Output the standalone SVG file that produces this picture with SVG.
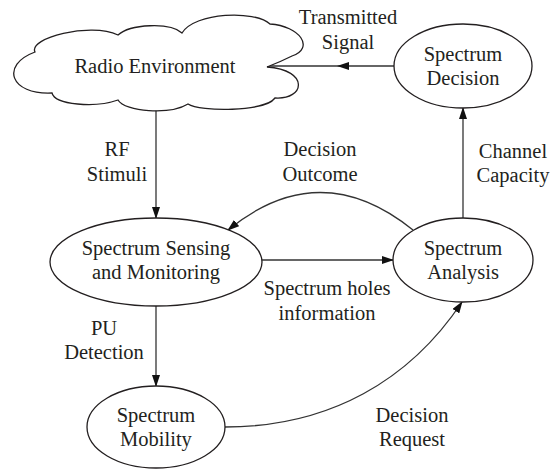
<svg xmlns="http://www.w3.org/2000/svg" width="551" height="470" viewBox="0 0 551 470" font-family="Liberation Serif, Times New Roman, DejaVu Serif, serif">
<style>
.shape{fill:#fff;stroke:#231f20;stroke-width:1.3}
.edge{fill:none;stroke:#333;stroke-width:1.3}
.t{font-family:'Liberation Serif','Times New Roman','DejaVu Serif',serif;font-size:20.5px;fill:#231f20;text-anchor:middle}
</style>
<defs>
<marker id="ah" markerWidth="12" markerHeight="8" refX="11" refY="4" orient="auto" markerUnits="userSpaceOnUse">
<path d="M0,0 L12,4 L0,8 Z" fill="#111"/>
</marker>
</defs>
<rect width="551" height="470" fill="#fff"/>
<g id="connectors">
<line class="edge" x1="394" y1="66" x2="267" y2="66"/>
<path d="M337,66 L349,62 L349,70 Z" fill="#111"/>
<line class="edge" x1="156" y1="106" x2="156" y2="218" marker-end="url(#ah)"/>
<line class="edge" x1="463" y1="218" x2="463" y2="108" marker-end="url(#ah)"/>
<line class="edge" x1="262" y1="260" x2="393" y2="260" marker-end="url(#ah)"/>
<path class="edge" d="M413,230 Q320,155 228,230" marker-end="url(#ah)"/>
<line class="edge" x1="156" y1="306" x2="156" y2="386" marker-end="url(#ah)"/>
<path class="edge" d="M225,427 C330,427 410,380 462,302" marker-end="url(#ah)"/>
</g>
<g id="radio-environment">
<path class="shape" d="M35,52 C28,38 90,22 118,35 C130,24 170,22 182,33 C195,12 255,10 270,24 C300,26 315,48 292,56 Q280,62 267,67 C310,70 305,100 275,98 C265,112 200,112 188,104 C170,115 125,112 118,100 C95,108 55,105 52,93 C10,95 0,65 35,52 Z"/>
<text class="t" x="155" y="73">Radio Environment</text>
</g>
<g id="spectrum-decision">
<ellipse class="shape" cx="463" cy="66" rx="69" ry="42"/>
<text class="t" x="463" y="61">Spectrum</text>
<text class="t" x="463" y="85">Decision</text>
</g>
<g id="spectrum-sensing">
<ellipse class="shape" cx="156" cy="262" rx="106" ry="44"/>
<text class="t" x="156" y="255">Spectrum Sensing</text>
<text class="t" x="156" y="279">and Monitoring</text>
</g>
<g id="spectrum-analysis">
<ellipse class="shape" cx="463" cy="260" rx="70" ry="42"/>
<text class="t" x="463" y="255">Spectrum</text>
<text class="t" x="463" y="279">Analysis</text>
</g>
<g id="spectrum-mobility">
<ellipse class="shape" cx="156" cy="427" rx="69" ry="41"/>
<text class="t" x="156" y="422">Spectrum</text>
<text class="t" x="156" y="446">Mobility</text>
</g>
<g id="labels">
<text class="t" x="348" y="24">Transmitted</text>
<text class="t" x="348" y="49">Signal</text>
<text class="t" x="117" y="156">RF</text>
<text class="t" x="117" y="181">Stimuli</text>
<text class="t" x="320" y="156">Decision</text>
<text class="t" x="320" y="181">Outcome</text>
<text class="t" x="513" y="158">Channel</text>
<text class="t" x="513" y="182">Capacity</text>
<text class="t" x="327" y="295">Spectrum holes</text>
<text class="t" x="327" y="320">information</text>
<text class="t" x="104" y="335">PU</text>
<text class="t" x="104" y="359">Detection</text>
<text class="t" x="412" y="422">Decision</text>
<text class="t" x="412" y="446">Request</text>
</g>
</svg>
